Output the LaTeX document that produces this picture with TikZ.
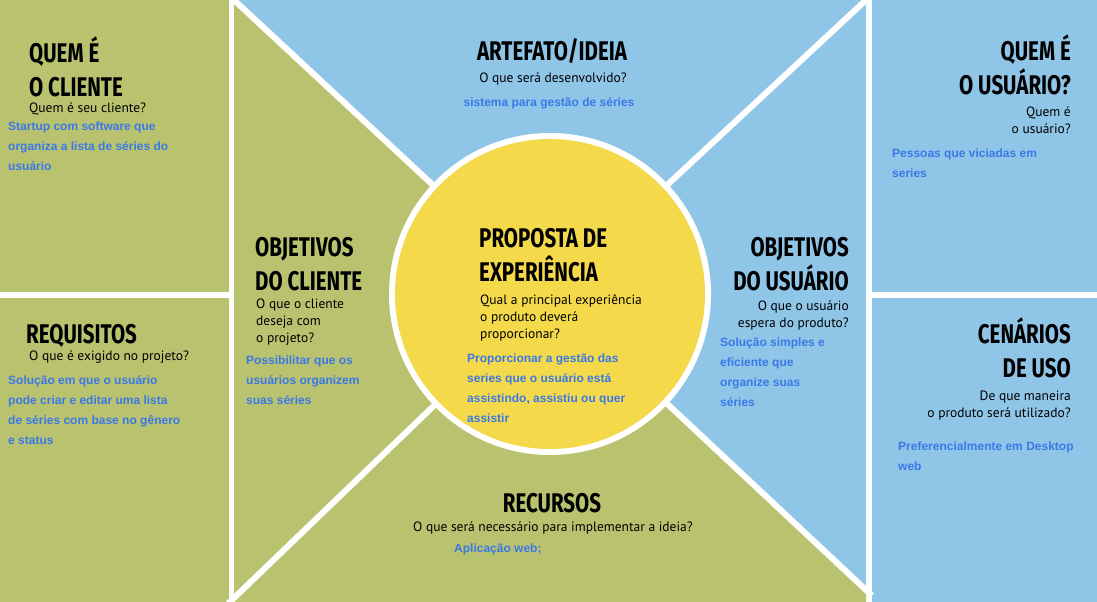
\documentclass[tikz,border=0pt]{standalone}
\usepackage{fontspec}
\setmainfont{PT Sans}
\newfontfamily\headfont[FakeStretch=0.76]{Fira Sans}
\newfontfamily\answerfont{Liberation Sans}
\definecolor{canvasgreen}{RGB}{185,195,111}
\definecolor{canvasblue}{RGB}{143,198,232}
\definecolor{canvasyellow}{RGB}{244,218,75}
\definecolor{answerblue}{RGB}{59,120,231}

\begin{document}
\begin{tikzpicture}[x=1pt,y=-1pt,
    heading/.style={inner sep=0pt, font=\headfont\bfseries\fontsize{27}{34}\selectfont},
    question/.style={inner sep=0pt, font=\fontsize{13.5}{17}\selectfont},
    answer/.style={inner sep=0pt, text=answerblue, font=\answerfont\bfseries\fontsize{12}{20}\selectfont},
    gap/.style={white, line width=6pt, shorten >=-8pt}]
    \useasboundingbox (0,0) rectangle (1097,602);
    \fill[white] (0,0) rectangle (1097,602);
    \fill[canvasgreen] (0,0) rectangle (229,292);
    \fill[canvasgreen] (0,298) rectangle (229,602);
    \fill[canvasblue] (872,0) rectangle (1097,292);
    \fill[canvasblue] (872,298) rectangle (1097,602);
    \coordinate (O) at (550,294);
    \coordinate (TL) at (234,0);
    \coordinate (TR) at (866,0);
    \coordinate (BL) at (234,598);
    \coordinate (BR) at (866,590);
    \fill[canvasblue] (TL) -- (TR) -- (O) -- cycle;
    \fill[canvasblue] (TR) -- (BR) -- (O) -- cycle;
    \fill[canvasgreen] (TL) -- (O) -- (BL) -- cycle;
    \fill[canvasgreen] (BL) -- (234,602) -- (866,602) -- (BR) -- (O) -- cycle;
    \foreach \c in {TL,TR,BL,BR}{
    \draw[gap] (O) -- (\c);
    }
    \fill[white] (O) circle[radius=161];
    \fill[canvasyellow] (O) circle[radius=155];

    % multi-line nodes sit on the baseline of their last line
    \node[heading, align=left, anchor=base west] (cliente-h) at (29,96) {QUEM É\\O CLIENTE};
    \node[question, align=left, anchor=base west] (cliente-q) at (29,112) {Quem é seu cliente?};
    \node[answer, align=left, anchor=base west] (cliente-a) at (8,170) {Startup com software que\\organiza a lista de séries do\\usuário};

    \node[heading, align=left, anchor=base west] (requisitos-h) at (26,343) {REQUISITOS};
    \node[question, align=left, anchor=base west] (requisitos-q) at (29,360) {O que é exigido no projeto?};
    \node[answer, align=left, anchor=base west] (requisitos-a) at (8,444) {Solução em que o usuário\\pode criar e editar uma lista\\de séries com base no gênero\\e status};

    \node[heading, anchor=base] (artefato-h) at (552,60) {ARTEFATO/IDEIA};
    \node[question, anchor=base] (artefato-q) at (553,82) {O que será desenvolvido?};
    \node[answer, anchor=base] (artefato-a) at (549,106) {sistema para gestão de séries};

    \node[heading, align=right, anchor=base east] (usuario-h) at (1071,94) {QUEM É\\O USUÁRIO?};
    \node[question, align=right, anchor=base east] (usuario-q) at (1071,133) {Quem é\\o usuário?};
    \node[answer, align=left, anchor=base west] (usuario-a) at (892,177) {Pessoas que viciadas em\\series};

    \node[heading, align=left, anchor=base west] (objcliente-h) at (255,290) {OBJETIVOS\\DO CLIENTE};
    \node[question, align=left, anchor=base west] (objcliente-q) at (256,342) {O que o cliente\\deseja com\\o projeto?};
    \node[answer, align=left, anchor=base west] (objcliente-a) at (246,404) {Possibilitar que os\\usuários organizem\\suas séries};

    \node[heading, align=left, anchor=base west] (proposta-h) at (479,281) {PROPOSTA DE\\EXPERIÊNCIA};
    \node[question, align=left, anchor=base west] (proposta-q) at (480,338) {Qual a principal experiência\\o produto deverá\\proporcionar?};
    \node[answer, align=left, anchor=base west] (proposta-a) at (467,422) {Proporcionar a gestão das\\series que o usuário está\\assistindo, assistiu ou quer\\assistir};

    \node[heading, align=right, anchor=base east] (objusuario-h) at (849,290) {OBJETIVOS\\DO USUÁRIO};
    \node[question, align=right, anchor=base east] (objusuario-q) at (849,327) {O que o usuário\\espera do produto?};
    \node[answer, align=left, anchor=base west] (objusuario-a) at (720,406) {Solução simples e\\eficiente que\\organize suas\\séries};

    \node[heading, align=right, anchor=base east] (cenarios-h) at (1071,377) {CENÁRIOS\\DE USO};
    \node[question, align=right, anchor=base east] (cenarios-q) at (1071,417) {De que maneira\\o produto será utilizado?};
    \node[answer, align=left, anchor=base west] (cenarios-a) at (898,470) {Preferencialmente em Desktop\\web};

    \node[heading, anchor=base] (recursos-h) at (552,512) {RECURSOS};
    \node[question, anchor=base] (recursos-q) at (553,531) {O que será necessário para implementar a ideia?};
    \node[answer, align=left, anchor=base west] (recursos-a) at (454,552) {Aplicação web;};
\end{tikzpicture}
\end{document}
